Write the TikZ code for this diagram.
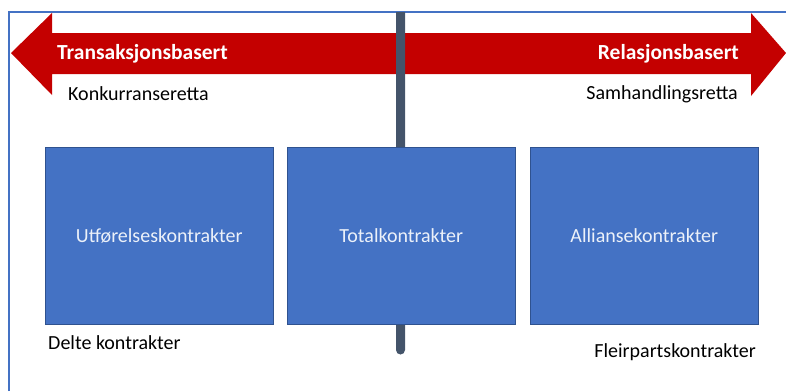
\documentclass[tikz,border=0pt]{standalone}
\usepackage{fontspec}
\setmainfont{Carlito}
\usepackage{xcolor}
\usetikzlibrary{positioning, calc}

\definecolor{arrowred}{HTML}{C40000}
\definecolor{boxblue}{HTML}{4472C4}
\definecolor{boxedge}{HTML}{2F528F}
\definecolor{barslate}{HTML}{44546A}
\definecolor{frameblue}{HTML}{4472C4}

\begin{document}
\begin{tikzpicture}[x=1pt, y=-1pt, every node/.style={font=\fontsize{20}{24}\selectfont, inner sep=0pt},
  kontrakt/.style={draw=boxedge, fill=boxblue, line width=0.6pt, minimum width=228pt, minimum height=177pt,
    text=white!90!boxblue, anchor=north west},
  pil/.style={text=white, font=\fontsize{21.5}{26}\selectfont\bfseries},
  retning/.style={text=black}]
\useasboundingbox (0,0) rectangle (786,391);

% Frame
\draw[frameblue, line width=1.2pt] (9,391) -- (9,12) -- (786,12);

% Double arrow
\fill[arrowred] (11,53) -- (52,13) -- (52,33) -- (751,33) -- (751,13) -- (786,53)
  -- (751,96) -- (751,74) -- (52,74) -- (52,95) -- cycle;

% Axis bar
\fill[barslate] (396,12) -- (405,12) -- (405,350) arc (0:180:4.5) -- cycle;

% Boxes
\node[kontrakt] (utfor) at (45,147) {Utførelseskontrakter};
\node[kontrakt] (total) at (287,147) {Totalkontrakter};
\node[kontrakt] (allianse) at (530,147) {Alliansekontrakter};

% Arrow labels
\node[pil, anchor=west] (trans) at (57,54) {Transaksjonsbasert};
\node[pil, anchor=east] (rel) at (739,54) {Relasjonsbasert};
\node[retning, anchor=west] (konk) at (68,94) {Konkurranseretta};
\node[retning, anchor=east] (samh) at (738,94) {Samhandlingsretta};

% Below boxes
\node[retning, anchor=west] (delte) at (48,343) {Delte kontrakter};
\node[retning, anchor=east] (fleir) at (756,352) {Fleirpartskontrakter};

\end{tikzpicture}
\end{document}
